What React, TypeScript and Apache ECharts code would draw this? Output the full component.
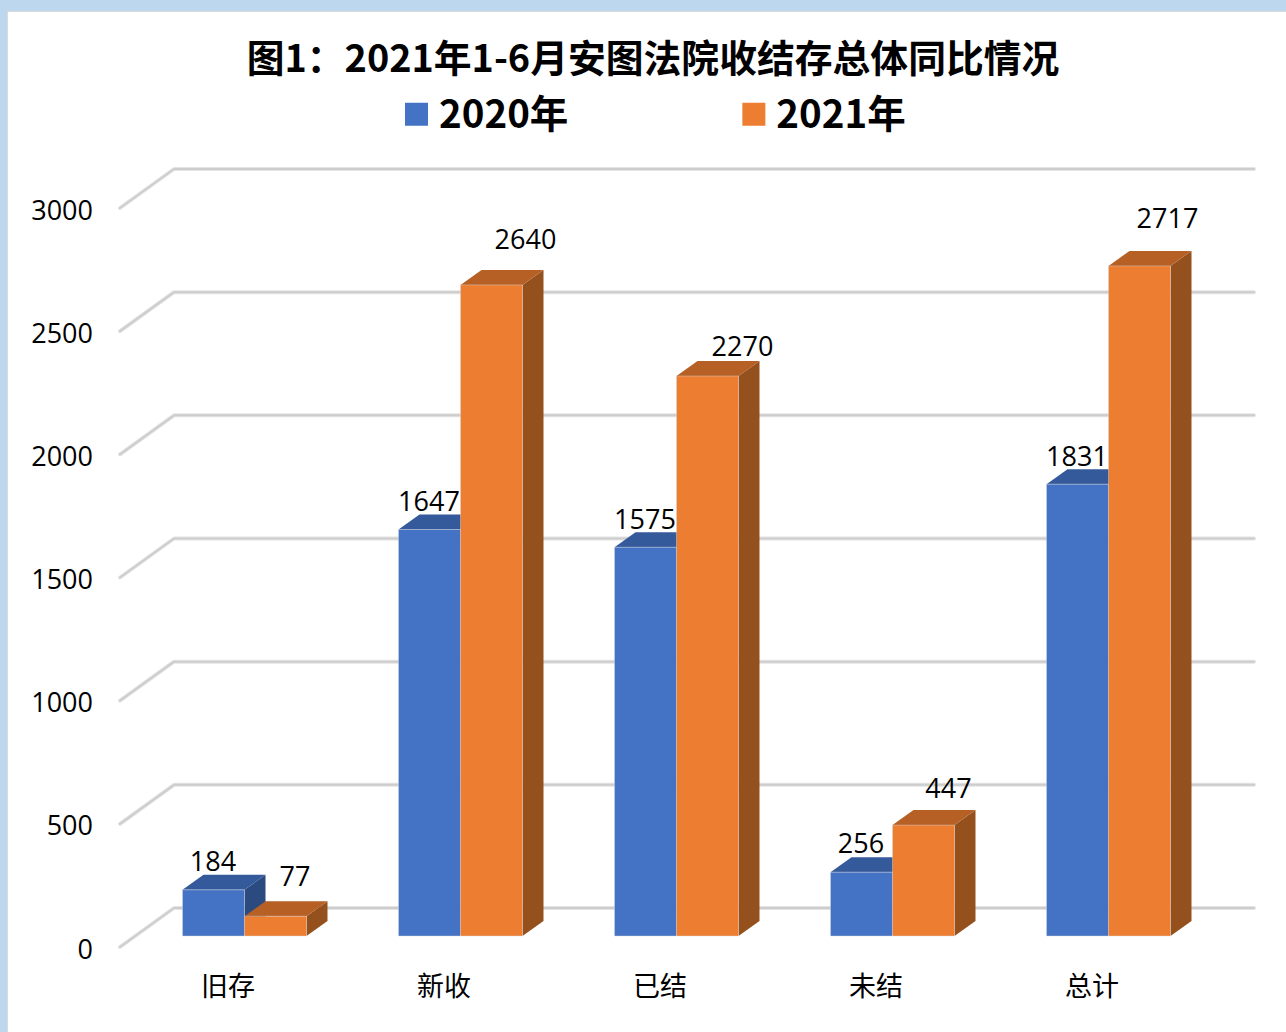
import React, { useEffect, useRef } from "react";
import * as echarts from "echarts";

const categories = ["旧存", "新收", "已结", "未结", "总计"];
const values2020 = [184, 1647, 1575, 256, 1831];
const values2021 = [77, 2640, 2270, 447, 2717];
const axisTicks = [0, 500, 1000, 1500, 2000, 2500, 3000];
const titleText = "图1：2021年1-6月安图法院收结存总体同比情况";
const seriesNames = ["2020年", "2021年"];

// Layout of value labels, relative to each bar's top-centre
const labelShift2020 = [[-0.5, -29], [-0.5, -29], [-0.5, -29], [-0.5, -30], [-0.5, -29]];
const labelShift2021 = [[19.5, -41], [34, -46], [35, -31], [25, -38], [28, -48]];

const FONT = '"Open Sans","Noto Sans CJK SC",sans-serif';
const BOLD = '"Noto Sans CJK SC",sans-serif';
const BAR_W = 62;
const BAR_DX = 16.5;
const BAR_DY = -12;
const TOP_LIFT = -0.8;
const DEPTH_X = 21;
const DEPTH_Y = -15;
const WALL_DX = 54;
const WALL_FRONT_DY = -1;
const WALL_DY = -40;
// square drawn in the lower part of a taller box, so it sits lower than the legend text's centre
const LEGEND_ICON = "path://M0 0L0 0M0 6H23V29H0Z";

const palette2020 = { front: "#4472C4", top: "#345A9B", side: "#2A4A80" };
const palette2021 = { front: "#ED7D31", top: "#B66025", side: "#95511D" };

function barRenderer(side: number, palette: any, shifts: number[][]) {
  return (params: any, api: any) => {
    const i = api.value(0);
    const v = api.value(1);
    const base = api.coord([i, 0]);
    const top = api.coord([i, v]);
    const xa = base[0] + BAR_DX + (side < 0 ? -BAR_W : 0);
    const xb = xa + BAR_W;
    const yb = base[1] + BAR_DY;
    const yt = top[1] + BAR_DY + TOP_LIFT;
    const edge = { stroke: "rgba(215,215,215,0.45)", lineWidth: 1 };
    const shift = shifts[params.dataIndex];
    return {
      type: "group",
      children: [
        {
          type: "polygon",
          shape: { points: [[xb, yb], [xb + DEPTH_X, yb + DEPTH_Y], [xb + DEPTH_X, yt + DEPTH_Y], [xb, yt]] },
          style: { fill: palette.side },
        },
        {
          type: "polygon",
          shape: { points: [[xa, yt], [xa + DEPTH_X, yt + DEPTH_Y], [xb + DEPTH_X, yt + DEPTH_Y], [xb, yt]] },
          style: { fill: palette.top },
        },
        {
          type: "rect",
          shape: { x: xa, y: yt, width: BAR_W, height: yb - yt },
          style: { fill: palette.front, ...edge },
        },
        {
          type: "text",
          z2: 50,
          style: {
            text: String(v),
            x: (xa + xb) / 2 + shift[0],
            y: yt + shift[1],
            textAlign: "center",
            textVerticalAlign: "middle",
            fontSize: 27,
            fontFamily: FONT,
            fill: "#000000",
          },
        },
      ],
    };
  };
}

function wallRenderer(params: any, api: any) {
  const rect = params.coordSys;
  const y = api.coord([0, api.value(1)])[1];
  const pts = [
    [rect.x, y + WALL_FRONT_DY],
    [rect.x + WALL_DX, y + WALL_DY],
    [rect.x + rect.width + WALL_DX, y + WALL_DY],
  ];
  return {
    type: "group",
    children: [
      { type: "polyline", shape: { points: pts }, style: { fill: "none", stroke: "#E4E4E4", lineWidth: 4, lineCap: "round", lineJoin: "round" } },
      { type: "polyline", shape: { points: pts }, style: { fill: "none", stroke: "#CDCDCD", lineWidth: 2, lineCap: "round", lineJoin: "round" } },
    ],
  };
}

export default function App() {
  const ref = useRef<HTMLDivElement>(null);
  useEffect(() => {
    document.body.style.margin = "0";
    const chart = echarts.init(ref.current!, null, { renderer: "svg" });
    chart.setOption({
      animation: false,
      backgroundColor: "#FFFFFF",
      graphic: [
        { type: "rect", z: -10, shape: { x: 0, y: 0, width: 1286, height: 11 }, style: { fill: "#BDD7EE" } },
        { type: "rect", z: -10, shape: { x: 0, y: 0, width: 7, height: 1032 }, style: { fill: "#BDD7EE" } },
        { type: "rect", z: -10, shape: { x: 7, y: 11, width: 1279, height: 1 }, style: { fill: "#DADADA" } },
        { type: "rect", z: -10, shape: { x: 7, y: 11, width: 1, height: 1021 }, style: { fill: "#DADADA" } },
      ],
      title: {
        text: titleText,
        left: 648,
        top: 23,
        textAlign: "center",
        textStyle: { fontFamily: BOLD, fontWeight: "bold", fontSize: 37.8, color: "#000000", lineHeight: 54 },
      },
      legend: {
        left: 405,
        top: 92,
        padding: 0,
        icon: LEGEND_ICON,
        itemWidth: 23,
        itemHeight: 29,
        itemGap: 174,
        data: seriesNames,
        textStyle: { fontFamily: BOLD, fontWeight: "bold", fontSize: 38.5, color: "#000000", padding: [0, 0, 0, 6] },
      },
      grid: { left: 120, top: 209, width: 1080, height: 739 },
      xAxis: {
        type: "category",
        data: categories,
        axisLine: { show: false },
        axisTick: { show: false },
        axisLabel: { margin: 24, fontFamily: FONT, fontSize: 27, color: "#000000" },
      },
      yAxis: {
        type: "value",
        min: axisTicks[0],
        max: axisTicks[axisTicks.length - 1],
        interval: 500,
        axisLine: { show: false },
        axisTick: { show: false },
        splitLine: { show: false },
        axisLabel: {
          margin: 27,
          fontFamily: FONT,
          fontSize: 27,
          color: "#000000",
          formatter: (v: number) => String(v),
        },
      },
      series: [
        {
          type: "custom",
          name: "wall",
          silent: true,
          clip: false,
          renderItem: wallRenderer,
          data: axisTicks.map((t) => [0, t]),
          encode: { x: 0, y: 1 },
        },
        {
          type: "custom",
          name: seriesNames[0],
          clip: false,
          itemStyle: { color: palette2020.front },
          renderItem: barRenderer(-1, palette2020, labelShift2020),
          data: values2020.map((v, i) => [i, v]),
          encode: { x: 0, y: 1 },
        },
        {
          type: "custom",
          name: seriesNames[1],
          clip: false,
          itemStyle: { color: palette2021.front },
          renderItem: barRenderer(1, palette2021, labelShift2021),
          data: values2021.map((v, i) => [i, v]),
          encode: { x: 0, y: 1 },
        },
      ],
    });
    return () => chart.dispose();
  }, []);
  return <div ref={ref} style={{ width: 1286, height: 1032 }} />;
}
